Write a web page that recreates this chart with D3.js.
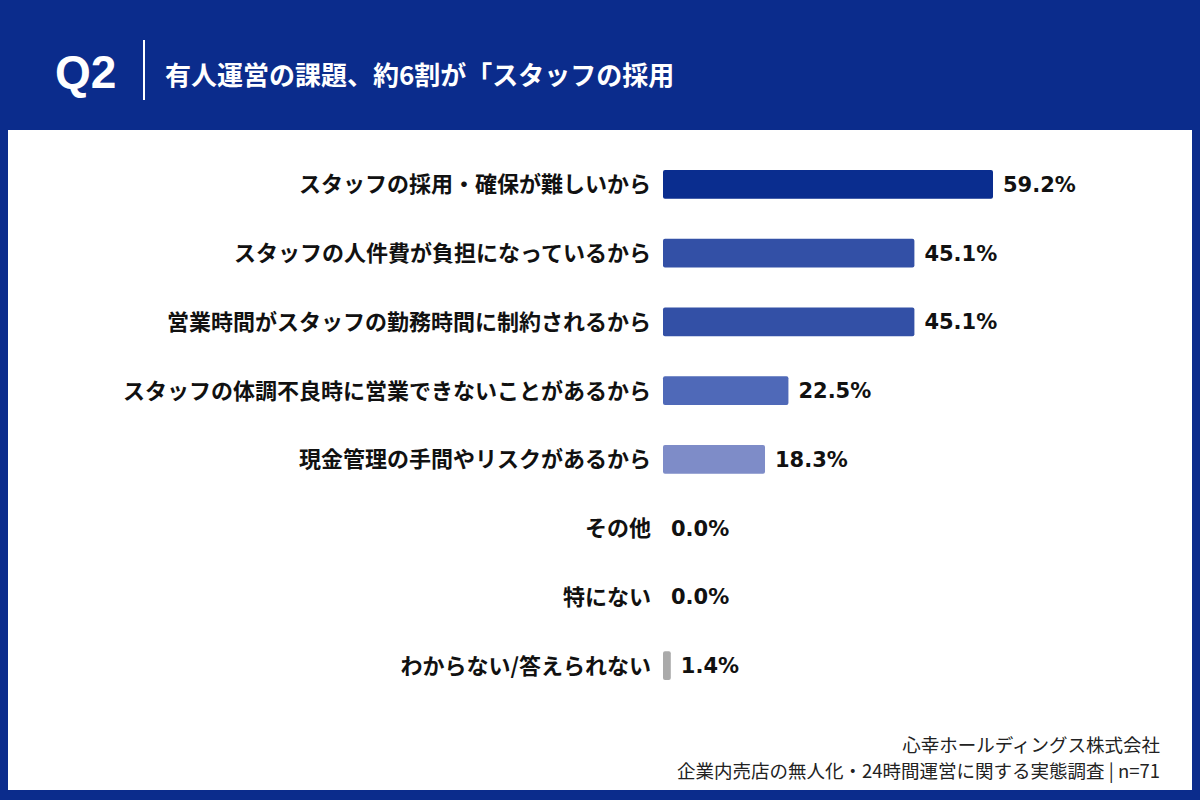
<!DOCTYPE html>
<html>
<head>
<meta charset="utf-8">
<script src="https://cdn.jsdelivr.net/npm/d3@7"></script>
<style>
  html, body { margin: 0; padding: 0; background: #0b2c8c; }
  svg { display: block; }
</style>
</head>
<body>
<div id="chart"></div>
<script>
const categories = [
  "スタッフの採用・確保が難しいから",
  "スタッフの人件費が負担になっているから",
  "営業時間がスタッフの勤務時間に制約されるから",
  "スタッフの体調不良時に営業できないことがあるから",
  "現金管理の手間やリスクがあるから",
  "その他",
  "特にない",
  "わからない/答えられない"
];
const values = [59.2, 45.1, 45.1, 22.5, 18.3, 0.0, 0.0, 1.4];
const barColors = ["#0a2d8f", "#3350a6", "#3350a6", "#4f69b8", "#7e8cc8", "#aaaaaa", "#aaaaaa", "#aaaaaa"];

const width = 1200, height = 800;
const font = "'Noto Sans CJK JP', 'Noto Sans', sans-serif";
const numFont = "'DejaVu Sans', 'Liberation Sans', sans-serif";

const svg = d3.select("#chart").append("svg")
  .attr("width", width)
  .attr("height", height);

// 背景
svg.append("rect").attr("width", width).attr("height", height).attr("fill", "#0b2c8c");
svg.append("rect")
  .attr("x", 8).attr("y", 130)
  .attr("width", 1184).attr("height", 660)
  .attr("fill", "#ffffff");

// ヘッダー
svg.append("text")
  .attr("x", 55).attr("y", 88)
  .attr("fill", "#fff")
  .attr("font-family", "'Liberation Sans', Arial, sans-serif")
  .attr("font-weight", 700)
  .attr("font-size", 46)
  .text("Q2");
svg.append("line")
  .attr("x1", 144).attr("x2", 144)
  .attr("y1", 40).attr("y2", 100)
  .attr("stroke", "#fff").attr("stroke-width", 2);
svg.append("text")
  .attr("x", 165).attr("y", 85)
  .attr("fill", "#fff")
  .attr("font-family", font)
  .attr("font-weight", 700)
  .attr("font-size", 26)
  .text("有人運営の課題、約6割が「スタッフの採用");

// スケール
const x = d3.scaleLinear().domain([0, 59.2]).range([663, 993]);
const y = d3.scaleBand().domain(categories).range([150, 700]).paddingInner(0.58).paddingOuter(0.29);

const rows = svg.append("g")
  .selectAll("g")
  .data(categories.map((c, i) => ({ label: c, value: values[i], color: barColors[i] })))
  .join("g");

rows.append("rect")
  .attr("x", x(0))
  .attr("y", d => y(d.label))
  .attr("width", d => x(d.value) - x(0))
  .attr("height", y.bandwidth())
  .attr("rx", 2)
  .attr("fill", d => d.color);

rows.append("text")
  .attr("x", 651)
  .attr("y", d => y(d.label) + y.bandwidth() / 2)
  .attr("dy", "0.36em")
  .attr("text-anchor", "end")
  .attr("font-family", font)
  .attr("font-weight", 700)
  .attr("font-size", 22)
  .attr("fill", "#111")
  .text(d => d.label);

rows.append("text")
  .attr("x", d => x(d.value) + (d.value > 0 ? 10 : 8))
  .attr("y", d => y(d.label) + y.bandwidth() / 2)
  .attr("dy", "0.36em")
  .attr("font-family", numFont)
  .attr("font-weight", 700)
  .attr("font-size", 21)
  .attr("fill", "#111")
  .text(d => d.value.toFixed(1) + "%");

// フッター
const foot = svg.append("g")
  .attr("font-family", font)
  .attr("font-size", 18.5)
  .attr("fill", "#222")
  .attr("text-anchor", "end");
foot.append("text").attr("x", 1160).attr("y", 752).text("心幸ホールディングス株式会社");
foot.append("text").attr("x", 1160).attr("y", 778).text("企業内売店の無人化・24時間運営に関する実態調査 | n=71");
</script>
</body>
</html>
